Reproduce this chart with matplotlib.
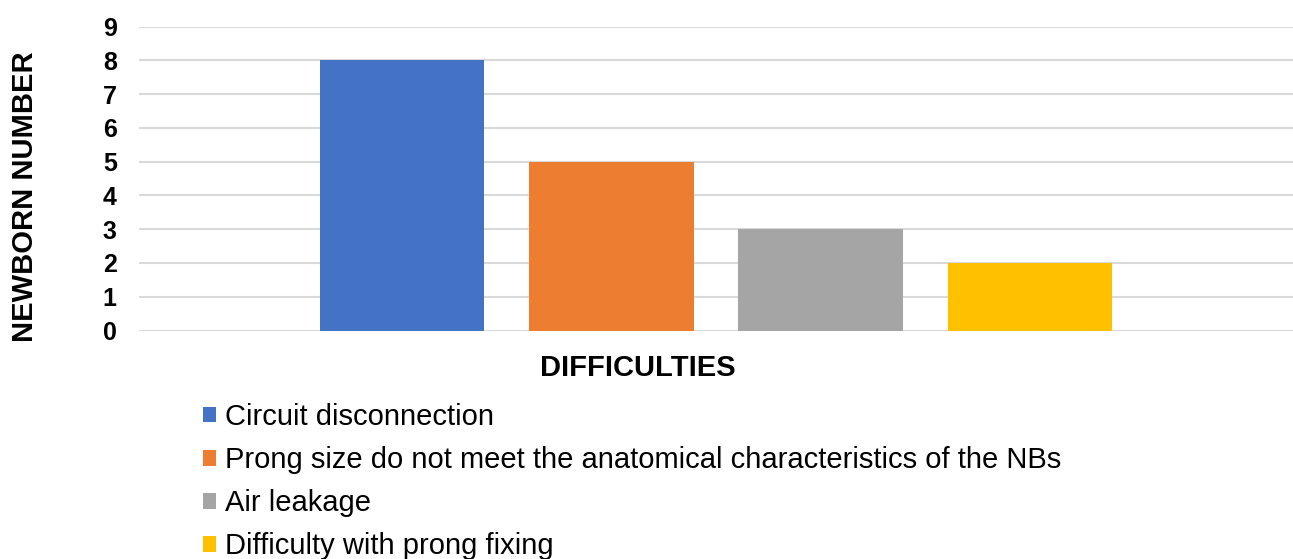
import numpy as np
import matplotlib.pyplot as plt

plt.rcParams['font.family'] = ['Liberation Sans', 'DejaVu Sans']

categories = ['Circuit disconnection',
              'Prong size do not meet the anatomical characteristics of the NBs',
              'Air leakage',
              'Difficulty with prong fixing']
values = [8, 5, 3, 2]
colors = ['#4472C4', '#ED7D31', '#A5A5A5', '#FFC000']

fig = plt.figure(figsize=(12.93, 5.59), dpi=100)
ax = fig.add_axes([139/1293, 1 - 330.5/559, 1 - 139/1293, (330.5 - 26.5)/559])

x = np.arange(len(values))
for i in range(len(values)):
    ax.bar(x[i], values[i], width=0.786, color=colors[i], label=categories[i], zorder=2)

ax.set_xlim(1.5 - 2.757, 1.5 + 2.757)
ax.set_ylim(0, 9)
ax.set_yticks(range(0, 10))
ax.set_xticks([])
ax.grid(axis='y', color='#D9D9D9', linewidth=1.5, zorder=0)
for s in ax.spines.values():
    s.set_visible(False)
ax.tick_params(axis='y', length=0, pad=16, labelsize=18)
for t in ax.get_yticklabels():
    t.set_fontweight('bold')

fig.text(25/1293, 1 - 197/559, 'NEWBORN NUMBER', rotation=90, fontsize=21,
         fontweight='bold', ha='center', va='center')
fig.text(638/1293, 1 - 368/559, 'DIFFICULTIES', fontsize=21,
         fontweight='bold', ha='center', va='center')

fig.legend(loc='upper left', bbox_to_anchor=(203/1293, 1 - 403/559), frameon=False,
           fontsize=21, handlelength=0.45, handleheight=0.45, handletextpad=0.3,
           labelspacing=0.52, borderpad=0, borderaxespad=0)

fig.savefig('out.png', dpi=100)
